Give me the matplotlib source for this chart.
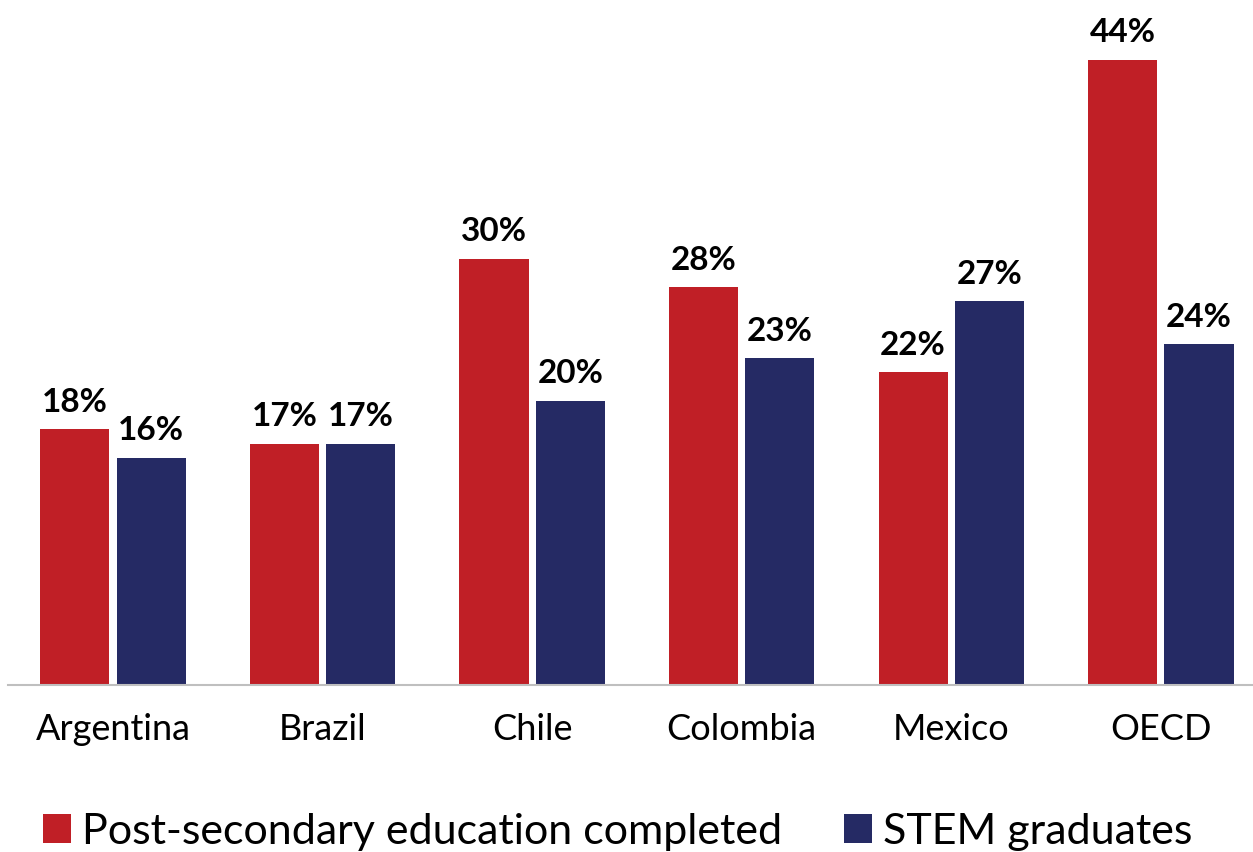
import matplotlib
matplotlib.use("Agg")
import matplotlib.pyplot as plt
import numpy as np

RED = "#c01f26"
NAVY = "#252a64"

countries = ["Argentina", "Brazil", "Chile", "Colombia", "Mexico", "OECD"]
post_secondary = [18, 17, 30, 28, 22, 44]
stem_graduates = [16, 17, 20, 23, 27, 24]
series_names = ["Post-secondary education completed", "STEM graduates"]

plt.rcParams["font.family"] = ["Lato", "DejaVu Sans"]

fig = plt.figure(figsize=(12.53, 8.52), dpi=100)
ax = fig.add_axes([8 / 1253, 0.196, 1245 / 1253, 0.802])

x = np.arange(len(countries))
width = 0.33
gap = 0.017
bars_red = ax.bar(x - width / 2 - gap, post_secondary, width, color=RED,
                  label=series_names[0])
bars_blue = ax.bar(x + width / 2 + gap, stem_graduates, width, color=NAVY,
                   label=series_names[1])

for bars, values in ((bars_red, post_secondary), (bars_blue, stem_graduates)):
    for bar, v in zip(bars, values):
        ax.annotate(f"{v}%", (bar.get_x() + bar.get_width() / 2, v),
                    xytext=(0, 9), textcoords="offset points",
                    ha="center", va="bottom", fontsize=24, fontweight="bold")

ax.set_xlim(-0.501, 5.44)
ax.set_ylim(0, 48.1)
ax.set_yticks([])
ax.set_xticks(x, countries, fontsize=26)
ax.tick_params(axis="x", length=0, pad=20)
for side in ("top", "right", "left"):
    ax.spines[side].set_visible(False)
ax.spines["bottom"].set_color("#bfbfbf")
ax.spines["bottom"].set_linewidth(1.5)

fig.legend(handles=[bars_red, bars_blue], labels=series_names,
           loc="center", bbox_to_anchor=(0.493, 0.024), ncol=2,
           frameon=False, fontsize=31, handlelength=0.65, handleheight=0.65,
           handletextpad=0.25, columnspacing=1.45)

fig.savefig("out.png", dpi=100)
